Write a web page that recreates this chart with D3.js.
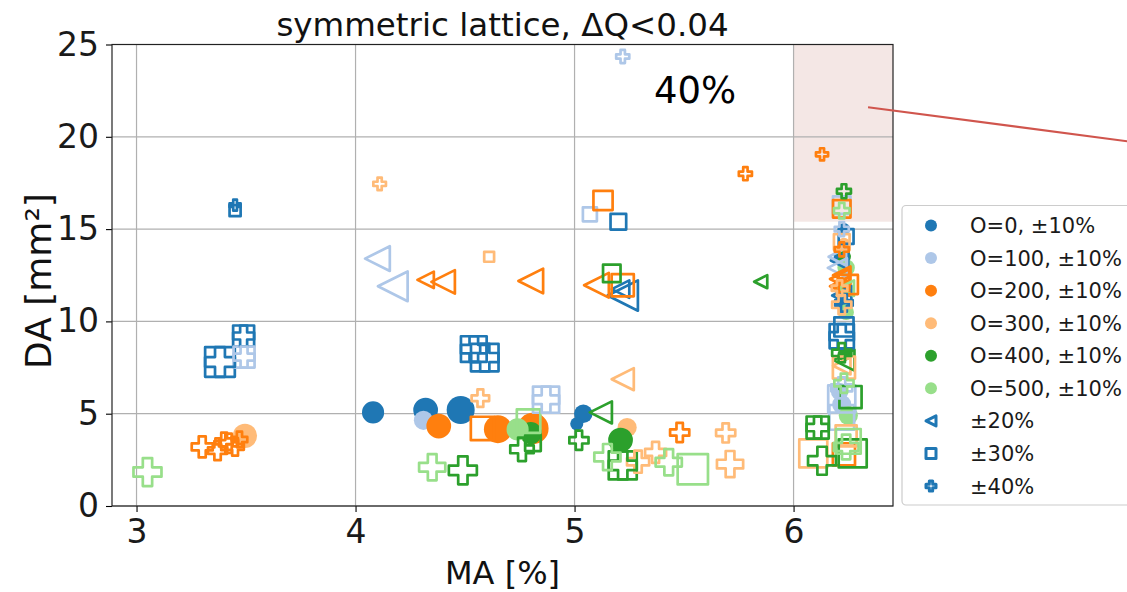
<!DOCTYPE html>
<html>
<head>
<meta charset="utf-8">
<script src="https://cdn.jsdelivr.net/npm/d3@7"></script>
<style>
  html, body { margin: 0; padding: 0; background: #fff; }
  svg { display: block; font-family: "DejaVu Sans", sans-serif; }
</style>
</head>
<body>
<svg id="chart" width="1127" height="592"></svg>
<script>
// Each row: [MA %, DA mm², tolerance %, weight]
// tolerance picks the marker shape, weight sets marker area.
const orbitLabels = ["O=0", "O=100", "O=200", "O=300", "O=400", "O=500"];
const orbitColors = ["#1f77b4", "#aec7e8", "#ff7f0e", "#ffbb78", "#2ca02c", "#98df8a"];
const tolerances = [10, 20, 30, 40];
const xTicks = [3, 4, 5, 6];
const yTicks = [0, 5, 10, 15, 20, 25];

const orbit0 = [
  [4.08, 5.07, 10, 40], [4.32, 5.2, 10, 50], [4.48, 5.2, 10, 64], [5.04, 5.0, 10, 28], [5.01, 4.45, 10, 14],
  [6.22, 11.0, 10, 16], [6.21, 13.6, 10, 12], [6.23, 15.0, 10, 12],
  [5.22, 11.4, 20, 75], [5.21, 11.75, 20, 25], [6.21, 13.3, 20, 25], [6.22, 11.4, 20, 30],
  [3.489, 9.21, 30, 36], [3.381, 7.80, 30, 72], [4.54, 8.5, 30, 54], [4.59, 8.04, 30, 62],
  [5.20, 15.4, 30, 20], [3.45, 16.0, 30, 10], [6.22, 9.2, 30, 48], [6.23, 9.7, 30, 30], [6.24, 14.6, 30, 18],
  [3.45, 16.3, 40, 10], [3.489, 9.21, 40, 36], [3.381, 7.80, 40, 72], [4.54, 8.5, 40, 54],
  [4.59, 8.04, 40, 62], [6.22, 9.2, 40, 48], [6.23, 11.0, 40, 25]
];
const orbit100 = [
  [4.31, 4.64, 10, 30], [6.22, 5.5, 10, 30], [6.21, 6.2, 10, 25],
  [4.10, 13.4, 20, 50], [4.17, 11.9, 20, 72], [6.20, 12.9, 20, 30], [6.20, 13.5, 20, 25],
  [5.07, 15.8, 30, 16], [3.491, 8.07, 30, 36], [4.87, 5.76, 30, 56],
  [6.22, 16.3, 30, 25], [6.22, 5.8, 30, 60], [6.22, 4.8, 30, 50],
  [5.22, 24.35, 40, 14], [3.491, 8.07, 40, 36], [4.87, 5.76, 40, 56], [6.22, 15.0, 40, 16], [6.22, 6.4, 40, 36]
];
const orbit200 = [
  [4.38, 4.33, 10, 50], [4.65, 4.16, 10, 64], [4.81, 4.2, 10, 80], [6.23, 14.0, 10, 16], [6.22, 12.0, 10, 20],
  [4.32, 12.25, 20, 22], [4.40, 12.14, 20, 45], [4.80, 12.19, 20, 50], [5.10, 11.96, 20, 50],
  [6.21, 12.3, 20, 30], [6.21, 11.9, 20, 30], [6.22, 12.5, 20, 25],
  [5.13, 16.55, 30, 30], [5.22, 11.96, 30, 40], [4.58, 4.2, 30, 45],
  [6.22, 16.1, 30, 25], [6.25, 12.0, 30, 30], [6.23, 2.8, 30, 40],
  [6.13, 19.05, 40, 12], [5.78, 18.0, 40, 14], [5.48, 3.98, 40, 30],
  [3.30, 3.2, 40, 36], [3.37, 3.0, 40, 30], [3.42, 3.4, 40, 30], [3.45, 3.2, 40, 25],
  [3.40, 3.5, 40, 25], [3.47, 3.6, 40, 20], [6.22, 13.9, 40, 16]
];
const orbit300 = [
  [3.495, 3.8, 10, 48], [5.24, 4.25, 10, 30], [6.23, 14.2, 10, 12],
  [5.22, 6.87, 20, 40], [6.22, 7.6, 20, 25],
  [4.61, 13.5, 30, 8], [6.09, 2.85, 30, 64], [6.23, 7.5, 30, 40], [6.24, 3.8, 30, 36], [6.22, 14.3, 30, 20],
  [4.11, 17.45, 40, 13], [4.57, 5.84, 40, 25], [5.69, 3.96, 40, 30], [5.71, 2.27, 40, 56],
  [5.29, 2.4, 40, 40], [5.37, 2.9, 40, 36], [6.22, 10.9, 40, 30], [6.21, 11.8, 40, 20]
];
const orbit400 = [
  [5.21, 3.57, 10, 50], [4.80, 3.95, 10, 40], [6.23, 13.5, 10, 16], [6.23, 8.2, 10, 14],
  [5.85, 12.15, 20, 14], [5.12, 5.07, 20, 40], [6.23, 7.9, 20, 36],
  [5.17, 12.6, 30, 25], [5.22, 2.2, 30, 64], [4.81, 3.4, 30, 20],
  [6.11, 4.25, 30, 40], [6.27, 2.85, 30, 64], [6.26, 5.9, 30, 40],
  [6.23, 17.05, 40, 16], [5.02, 3.56, 40, 30], [4.76, 3.07, 40, 45], [4.49, 1.93, 40, 64],
  [5.22, 2.2, 40, 64], [6.11, 4.25, 40, 40], [6.13, 2.45, 40, 64], [6.22, 8.3, 40, 30]
];
const orbit500 = [
  [4.74, 4.15, 10, 40], [6.24, 12.9, 10, 25], [6.24, 10.5, 10, 20], [6.25, 4.9, 10, 30],
  [6.24, 11.8, 20, 20],
  [4.79, 4.6, 30, 45], [5.54, 1.99, 30, 75], [6.25, 3.5, 30, 50],
  [3.05, 1.84, 40, 64], [4.35, 2.1, 40, 56], [5.15, 2.65, 40, 56], [5.43, 2.37, 40, 56],
  [6.22, 16.0, 40, 20], [6.23, 6.65, 40, 30], [6.24, 3.2, 40, 50]
];
const orbitSeries = [orbit0, orbit100, orbit200, orbit300, orbit400, orbit500];

// region of interest and its annotation
const roi = { x0: 6.0, y0: 15.4, label: "40%" };

const svg = d3.select("#chart");
const plot = { left: 112, right: 893, top: 44.5, bottom: 506 };

const x = d3.scaleLinear().domain([2.888, 6.454]).range([plot.left, plot.right]);
const y = d3.scaleLinear().domain([0, 25]).range([plot.bottom, plot.top]);
const sizeScale = d3.scaleSqrt().domain([0, 100]).range([0, 35]);

// marker path generators, centred on 0,0, s = full extent in px
function markerPath(tol, s) {
  const h = s / 2;
  if (tol === 10) {
    const p = d3.path(); p.arc(0, 0, h, 0, 2 * Math.PI); return p.toString();
  }
  if (tol === 20) {
    return `M${-h},0L${h},${-h}L${h},${h}Z`;
  }
  if (tol === 30) {
    return `M${-h},${-h}H${h}V${h}H${-h}Z`;
  }
  const u = s / 6;
  const pts = [[-1,-3],[1,-3],[1,-1],[3,-1],[3,1],[1,1],[1,3],[-1,3],[-1,1],[-3,1],[-3,-1],[-1,-1]];
  return "M" + pts.map(p => `${p[0]*u},${p[1]*u}`).join("L") + "Z";
}

svg.append("defs").append("clipPath").attr("id", "plotclip")
  .append("rect").attr("x", plot.left).attr("y", plot.top)
  .attr("width", plot.right - plot.left).attr("height", plot.bottom - plot.top);

// shaded region
svg.append("rect")
  .attr("x", x(roi.x0)).attr("y", plot.top)
  .attr("width", plot.right - x(roi.x0)).attr("height", y(roi.y0) - plot.top)
  .attr("fill", "#f4e7e5");

// grid
const grid = svg.append("g").attr("stroke", "#b0b0b0").attr("stroke-width", 1.2);
grid.selectAll("line.vx").data(xTicks).join("line")
  .attr("x1", d => x(d)).attr("x2", d => x(d)).attr("y1", plot.top).attr("y2", plot.bottom);
grid.selectAll("line.hy").data(yTicks).join("line")
  .attr("y1", d => y(d)).attr("y2", d => y(d)).attr("x1", plot.left).attr("x2", plot.right);

// points: tolerance outer loop, orbit inner loop
const marks = svg.append("g").attr("clip-path", "url(#plotclip)");
tolerances.forEach(tol => {
  orbitSeries.forEach((series, i) => {
    const rows = series.filter(r => r[2] === tol);
    marks.selectAll(null).data(rows).join("path")
      .attr("transform", d => `translate(${x(d[0])},${y(d[1])})`)
      .attr("d", d => markerPath(tol, sizeScale(d[3])))
      .attr("fill", tol === 10 ? orbitColors[i] : "none")
      .attr("stroke", tol === 10 ? "none" : orbitColors[i])
      .attr("stroke-width", 2.7)
      .attr("stroke-linejoin", "round");
  });
});

// axes
const xAxis = d3.axisBottom(x).tickValues(xTicks).tickSize(6).tickPadding(8).tickFormat(d3.format("d"));
const yAxis = d3.axisLeft(y).tickValues(yTicks).tickSize(6).tickPadding(7).tickFormat(d3.format("d"));
const gx = svg.append("g").attr("transform", `translate(0,${plot.bottom})`).call(xAxis);
const gy = svg.append("g").attr("transform", `translate(${plot.left},0)`).call(yAxis);
[gx, gy].forEach(g => {
  g.select(".domain").remove();
  g.selectAll(".tick line").attr("stroke", "#000").attr("stroke-width", 1.1);
  g.selectAll(".tick text").attr("fill", "#1a1a1a").style("font-size", "33px")
    .style("font-family", "DejaVu Sans");
});

// frame
svg.append("rect")
  .attr("x", plot.left).attr("y", plot.top)
  .attr("width", plot.right - plot.left).attr("height", plot.bottom - plot.top)
  .attr("fill", "none").attr("stroke", "#222").attr("stroke-width", 1.2);

// annotation text + pointer line
svg.append("text").attr("x", 695).attr("y", 103).attr("text-anchor", "middle")
  .style("font-size", "37px").attr("fill", "#000").text(roi.label);
svg.append("line")
  .attr("x1", x(6.34)).attr("y1", y(21.6))
  .attr("x2", 1180).attr("y2", y(21.6) + (1180 - x(6.34)) * 34 / 259)
  .attr("stroke", "#d0554d").attr("stroke-width", 2.2);

// titles
svg.append("text").attr("x", (plot.left + plot.right) / 2).attr("y", 36)
  .attr("text-anchor", "middle").style("font-size", "32.5px").attr("fill", "#111")
  .text("symmetric lattice, ΔQ<0.04");
svg.append("text").attr("x", (plot.left + plot.right) / 2).attr("y", 584)
  .attr("text-anchor", "middle").style("font-size", "32px").attr("fill", "#111")
  .text("MA [%]");
svg.append("text").attr("transform", `translate(51,281) rotate(-90)`)
  .attr("text-anchor", "middle").style("font-size", "36px").attr("fill", "#111")
  .text("DA [mm²]");

// legend
const legendItems = orbitLabels.map((lab, i) => ({ label: `${lab}, ±10%`, tol: 10, color: orbitColors[i] }))
  .concat(tolerances.slice(1).map(t => ({ label: `±${t}%`, tol: t, color: orbitColors[0] })));
const lg = svg.append("g");
lg.append("rect").attr("x", 902).attr("y", 205.5).attr("width", 260).attr("height", 299.5)
  .attr("rx", 4).attr("fill", "#fff").attr("stroke", "#cccccc").attr("stroke-width", 1.2);
const rowY = d3.scaleLinear().domain([0, legendItems.length - 1]).range([225.5, 486]);
const rows = lg.selectAll("g.row").data(legendItems).join("g")
  .attr("transform", (d, i) => `translate(0,${rowY(i)})`);
rows.append("path")
  .attr("transform", "translate(931,0)")
  .attr("d", d => markerPath(d.tol, d.tol === 10 ? 12 : 10))
  .attr("fill", d => d.tol === 10 ? d.color : "none")
  .attr("stroke", d => d.tol === 10 ? "none" : d.color)
  .attr("stroke-width", 3).attr("stroke-linejoin", "round");
rows.append("text").attr("x", 970).attr("dy", "0.36em")
  .style("font-size", "21px").attr("fill", "#1a1a1a").text(d => d.label);
</script>
</body>
</html>
